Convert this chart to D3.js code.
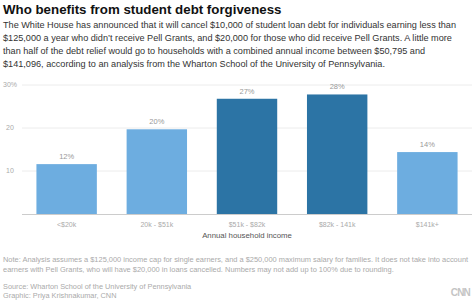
<!DOCTYPE html>
<html>
<head>
<meta charset="utf-8">
<script src="https://cdn.jsdelivr.net/npm/d3@7"></script>
<style>
  body { margin: 0; background: #fff; }
  text { font-family: "Liberation Sans", Arial, sans-serif; }
</style>
</head>
<body>
<script>
// chart data
var categories = ['<$20k', '20k - $51k', '$51k - $82k', '$82k - 141k', '$141k+'];
var shares = [11.6, 19.7, 26.8, 27.8, 14.4];
var shareLabels = ['12%', '20%', '27%', '28%', '14%'];
var highlighted = [false, false, true, true, false];
var yTicks = [10, 20, 30];

var introLines = [
    'The White House has announced that it will cancel $10,000 of student loan debt for individuals earning less than',
    '$125,000 a year who didn\u2019t receive Pell Grants, and $20,000 for those who did receive Pell Grants. A little more',
    'than half of the debt relief would go to households with a combined annual income between $50,795 and',
    '$141,096, according to an analysis from the Wharton School of the University of Pennsylvania.'
];
var noteLines = [
    'Note: Analysis assumes a $125,000 income cap for single earners, and a $250,000 maximum salary for families. It does not take into account',
    'earners with Pell Grants, who will have $20,000 in loans cancelled. Numbers may not add up to 100% due to rounding.'
];
var creditLines = [
    'Source: Wharton School of the University of Pennsylvania',
    'Graphic: Priya Krishnakumar, CNN'
];

var width = 474, height = 305;
var svg = d3.select('body').append('svg').attr('width', width).attr('height', height);

// headline + intro
svg.append('text')
    .attr('x', 3).attr('y', 14)
    .attr('font-size', 13.3).attr('font-weight', 'bold').attr('fill', '#111')
    .text('Who benefits from student debt forgiveness');

svg.append('g').selectAll('text')
    .data(introLines)
    .enter().append('text')
    .attr('x', 3)
    .attr('y', function (d, i) { return 28 + i * 13; })
    .attr('font-size', 9.15).attr('fill', '#333')
    .text(function (d) { return d; });

// scales
var x = d3.scaleBand().domain(categories).range([22, 472]).paddingInner(0.33).paddingOuter(0.16);
var y = d3.scaleLinear().domain([0, 30]).range([214, 85]);

var g = svg.append('g');

// gridlines
g.selectAll('line.grid')
    .data(yTicks)
    .enter().append('line')
    .attr('class', 'grid')
    .attr('x1', 22).attr('x2', 472)
    .attr('y1', function (d) { return y(d); })
    .attr('y2', function (d) { return y(d); })
    .attr('stroke', '#ececec').attr('stroke-width', 1);

g.selectAll('text.ytick')
    .data(yTicks)
    .enter().append('text')
    .attr('class', 'ytick')
    .attr('x', 10)
    .attr('y', function (d) { return y(d); })
    .attr('dy', '0.35em')
    .attr('text-anchor', 'middle')
    .attr('font-size', 7).attr('fill', '#aaa')
    .text(function (d) { return d === 30 ? d + '%' : d; });

// bars
g.selectAll('rect.bar')
    .data(shares)
    .enter().append('rect')
    .attr('class', 'bar')
    .attr('x', function (d, i) { return x(categories[i]); })
    .attr('width', x.bandwidth())
    .attr('y', function (d) { return y(d); })
    .attr('height', function (d) { return y(0) - y(d); })
    .attr('fill', function (d, i) { return highlighted[i] ? '#2c74a5' : '#6dade0'; });

g.selectAll('text.val')
    .data(shares)
    .enter().append('text')
    .attr('class', 'val')
    .attr('x', function (d, i) { return x(categories[i]) + x.bandwidth() / 2; })
    .attr('y', function (d) { return y(d) - 5; })
    .attr('text-anchor', 'middle')
    .attr('font-size', 7.5).attr('fill', '#999')
    .text(function (d, i) { return shareLabels[i]; });

// baseline + x axis
g.append('line')
    .attr('x1', 22).attr('x2', 472)
    .attr('y1', y(0) + 0.5).attr('y2', y(0) + 0.5)
    .attr('stroke', '#ccc');

var xAxis = g.append('g')
    .attr('transform', 'translate(0,' + y(0) + ')')
    .call(d3.axisBottom(x).tickSize(0).tickPadding(8));
xAxis.select('.domain').remove();
xAxis.selectAll('text')
    .attr('font-family', '"Liberation Sans", Arial, sans-serif')
    .attr('font-size', 7).attr('fill', '#aaa');

svg.append('text')
    .attr('x', 247).attr('y', 238)
    .attr('text-anchor', 'middle')
    .attr('font-size', 7.8).attr('fill', '#555')
    .text('Annual household income');

// notes and credits
svg.append('g').selectAll('text')
    .data(noteLines)
    .enter().append('text')
    .attr('x', 3)
    .attr('y', function (d, i) { return 262 + i * 9.5; })
    .attr('font-size', 7.45).attr('fill', '#aaa')
    .text(function (d) { return d; });

svg.append('g').selectAll('text')
    .data(creditLines)
    .enter().append('text')
    .attr('x', 3)
    .attr('y', function (d, i) { return 289 + i * 9; })
    .attr('font-size', 7.35).attr('fill', '#aaa')
    .text(function (d) { return d; });

svg.append('text')
    .attr('x', 470).attr('y', 296)
    .attr('text-anchor', 'end')
    .attr('font-size', 10).attr('font-weight', 'bold').attr('fill', '#c4c4c4')
    .attr('letter-spacing', -0.8)
    .text('CNN');
</script>
</body>
</html>
